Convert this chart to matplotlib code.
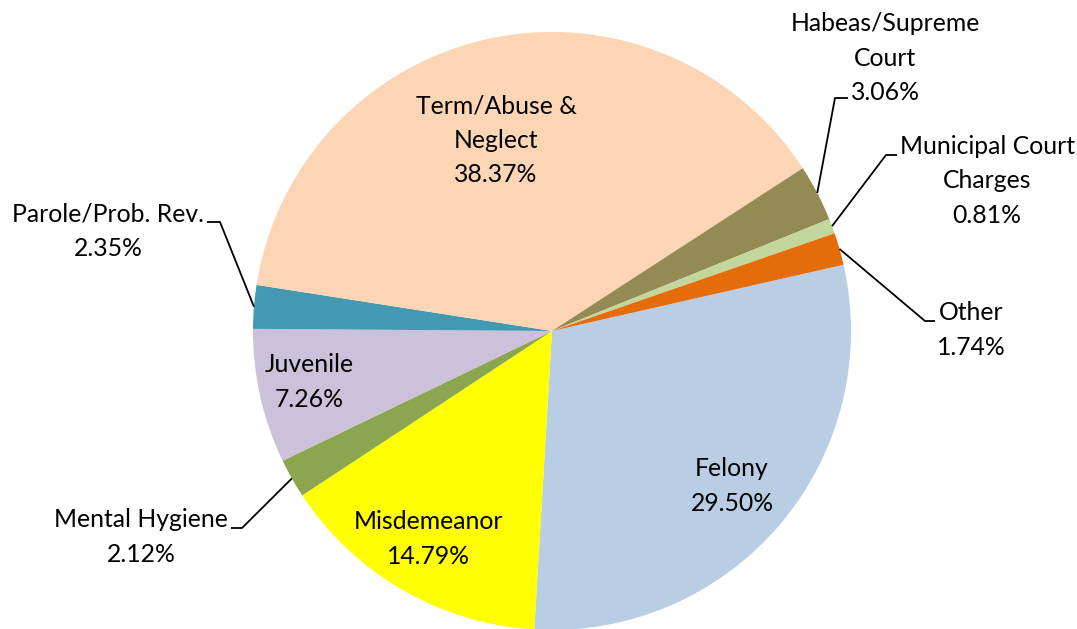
import numpy as np
import matplotlib.pyplot as plt

W, H = 1077, 629

categories = ["Felony", "Misdemeanor", "Mental Hygiene", "Juvenile",
              "Parole/Prob. Rev.", "Term/Abuse &\nNeglect", "Habeas/Supreme\nCourt",
              "Municipal Court\nCharges", "Other"]
shares = [29.50, 14.79, 2.12, 7.26, 2.35, 38.37, 3.06, 0.81, 1.74]
colors = ["#B9CDE5", "#FFFF00", "#8BA64F", "#CCC1DA", "#4399B1",
          "#FCD5B5", "#948A54", "#C3D69B", "#E46C0A"]

# label placement in pixel coords (x, y from top)
label_pos = [(732, 486), (428, 539), (141, 537), (309, 382), (108, 231),
             (496, 140), (885, 58), (987, 181), (971, 330)]
# leader lines: elbow point and end of horizontal segment (pixels from top)
leaders = {2: ((242, 528), (231, 528)),
           4: ((220, 222), (207, 222)),
           6: ((835, 98), (848, 98)),
           7: ((886, 155), (897, 155)),
           8: ((925, 321), (935, 321))}

CX, CY, R = 552, 331, 299

plt.rcParams["font.family"] = ["Lato", "DejaVu Sans"]

fig = plt.figure(figsize=(W / 100, H / 100), dpi=100)
ax = fig.add_axes([0, 0, 1, 1])

wedges, _ = ax.pie(shares, colors=colors, center=(CX, H - CY), radius=R,
                   startangle=12.8, counterclock=False,
                   wedgeprops=dict(linewidth=0))
ax.set_xlim(0, W)
ax.set_ylim(0, H)
ax.set_aspect("equal")
ax.axis("off")

for i, (name, val, w) in enumerate(zip(categories, shares, wedges)):
    x, y = label_pos[i]
    ax.text(x, H - y, f"{name}\n{val:.2f}%", ha="center", va="center",
            fontsize=17.8, linespacing=1.58, color="black")
    if i in leaders:
        mid = np.deg2rad((w.theta1 + w.theta2) / 2)
        ax_pt = (CX + R * np.cos(mid), H - CY + R * np.sin(mid))
        (ex, ey), (hx, hy) = leaders[i]
        ax.plot([ax_pt[0], ex, hx], [ax_pt[1], H - ey, H - hy],
                color="black", linewidth=1.3, solid_capstyle="butt")

fig.savefig("out.png", dpi=100)
